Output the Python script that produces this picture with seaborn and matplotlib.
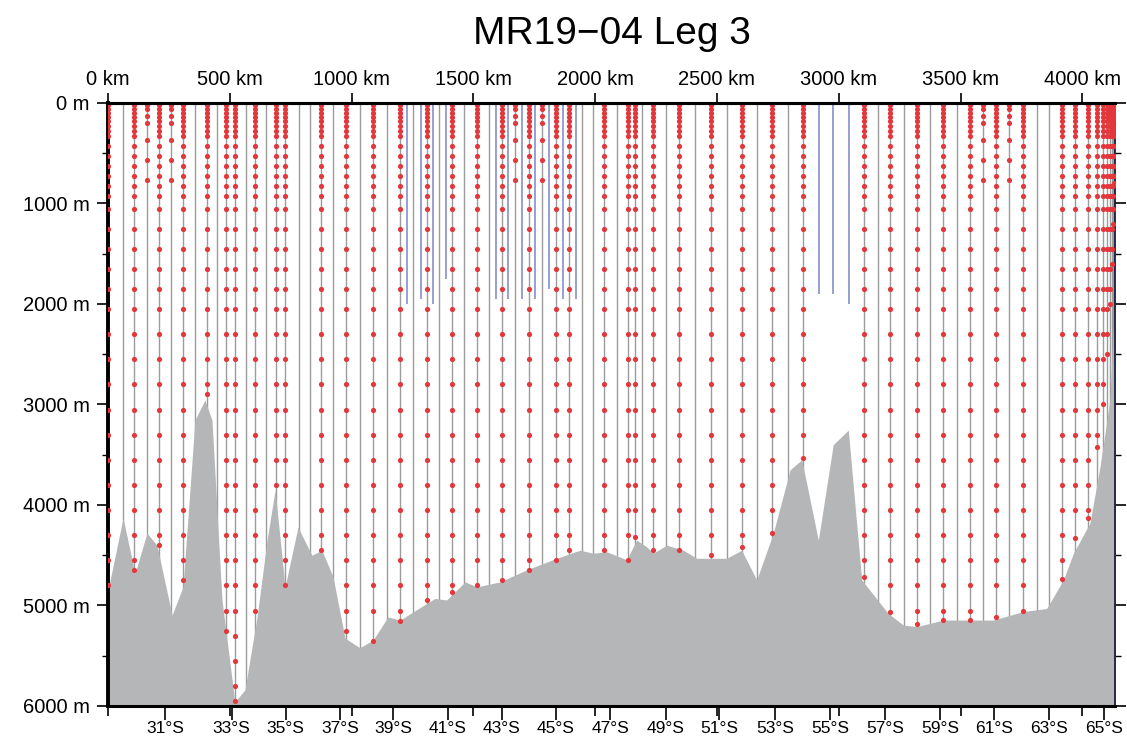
import numpy as np
import pandas as pd
import matplotlib
matplotlib.use("Agg")
import matplotlib.pyplot as plt
import seaborn as sns

# bathymetry along the section (distance km, depth m)
bathy_km = [0, 62, 111, 160, 201, 263, 308, 357, 398, 427, 468, 521, 562, 612, 653, 686, 727, 780,
            837, 878, 924, 973, 1034, 1088, 1149, 1199, 1308, 1342, 1390, 1466, 1514, 1609, 1719,
            1842, 1938, 1992, 2047, 2129, 2170, 2211, 2238, 2294, 2362, 2417, 2540, 2601, 2663,
            2731, 2800, 2848, 2916, 2977, 3039, 3094, 3203, 3265, 3320, 3429, 3634, 3757, 3853,
            3922, 3963, 4031, 4072, 4113, 4134]
bathy_m = [4850, 4130, 4680, 4280, 4400, 5095, 4815, 3155, 2955, 3155, 4945, 5960, 5840, 5115, 4350,
           3850, 4815, 4220, 4500, 4450, 4715, 5325, 5420, 5345, 5115, 5145, 4980, 4930, 4945, 4765,
           4815, 4765, 4645, 4530, 4450, 4480, 4465, 4545, 4350, 4415, 4480, 4400, 4450, 4530, 4530,
           4450, 4745, 4280, 3650, 3550, 4350, 3400, 3255, 4745, 5080, 5195, 5210, 5145, 5145, 5060,
           5030, 4745, 4480, 4180, 3620, 2955, 1860]

# bottle stations (km) and deepest sample (m)
stn_km = [0, 108, 209, 307, 405, 484, 521, 603, 688, 727, 874, 977, 1089, 1199, 1308, 1413, 1514,
          1616, 1728, 1839, 1892, 2036, 2136, 2163, 2236, 2345, 2474, 2601, 2727, 2852, 3103, 3210,
          3320, 3429, 3539, 3645, 3755, 3915, 3970, 4024, 4061, 4085, 4100, 4112, 4120, 4127, 4131]
stn_bottom = [4800, 4650, 4400, 4750, 2900, 5250, 5950, 5050, 3800, 4800, 4450, 5250, 5350, 5150,
              4950, 4870, 4800, 4750, 4650, 4550, 4450, 4450, 4550, 4320, 4450, 4450, 4500, 4420,
              4280, 3530, 4720, 5060, 5180, 5140, 5140, 5110, 5050, 4740, 4330, 4130, 3420, 3000,
              2500, 2000, 1600, 1200, 800]
# shallow bottle casts (upper 800 m only)
shallow_km = [159, 257, 1671, 1783, 3593, 3699]

deep_levels = [20, 60, 100, 140, 180, 230, 280, 330, 430, 530, 630, 730, 830, 930, 1050, 1250, 1450,
               1650, 1850, 2050, 2300, 2550, 2800, 3050, 3300, 3550, 3800, 4050, 4300, 4550, 4800,
               5050, 5300, 5550, 5800]
shallow_levels = [20, 60, 130, 200, 370, 570, 770]

# XCTD casts to the bottom
xctd_km = [62, 357, 446, 567, 649, 784, 829, 925, 1034, 1144, 1253, 1360, 1463, 1565, 1945, 1992,
           2088, 2191, 2291, 2410, 2540, 2663, 2793, 3162, 3268, 3376, 3485, 3812, 3863]

# casts to ~2000 m
argo_km = [1226, 1284, 1335, 1386, 1592, 1643, 1698, 1753, 1812, 1867, 1921, 2919, 2976, 3042]
argo_bottom = [2000, 1950, 2000, 1750, 1950, 1950, 1950, 1950, 1850, 1950, 1950, 1900, 1900, 2000]

lat_km = [234, 508, 729, 952, 1170, 1396, 1616, 1839, 2061, 2289, 2508, 2740, 2964, 3190, 3415,
          3637, 3863, 4089]
lat_labels = ['31°S', '33°S', '35°S', '37°S', '39°S', '41°S', '43°S', '45°S', '47°S', '49°S',
              '51°S', '53°S', '55°S', '57°S', '59°S', '61°S', '63°S', '65°S']
km_ticks = [0, 500, 1000, 1500, 2000, 2500, 3000, 3500, 4000]
depth_ticks = [0, 1000, 2000, 3000, 4000, 5000, 6000]

sns.set_style("ticks")
plt.rcParams['font.family'] = ['Liberation Sans', 'DejaVu Sans']
plt.rcParams['text.color'] = 'black'
plt.rcParams['xtick.color'] = 'black'
plt.rcParams['ytick.color'] = 'black'
plt.rcParams['xtick.labelcolor'] = 'black'
plt.rcParams['ytick.labelcolor'] = 'black'

# tabella dei campioni
rows = []
for k, b in zip(stn_km, stn_bottom):
    for d in [d for d in deep_levels if d < b - 60] + [b]:
        rows.append((k, d))
for k in shallow_km:
    for d in shallow_levels:
        rows.append((k, d))
df = pd.DataFrame(rows, columns=['km', 'depth'])

fig = plt.figure(figsize=(11.27, 7.43), dpi=100)
ax = fig.add_axes([0.0958, 0.0498, 0.8936, 0.8116])

ax.vlines(xctd_km + stn_km + shallow_km, 0, 6000, color='#9c9c9c', lw=1.0, zorder=1)
ax.vlines(argo_km, 0, argo_bottom, color='#8f98cc', lw=1.3, zorder=1)
ax.fill_between(bathy_km, bathy_m, 6000, color='#b5b6b8', lw=0, zorder=2)
sns.scatterplot(data=df, x='km', y='depth', color='#e3373c', s=14, linewidth=0,
                ax=ax, zorder=3, legend=False)

ax.set_xlim(0, 4134)
ax.set_ylim(6000, 0)
ax.set_xlabel('')
ax.set_ylabel('')

ax.set_yticks(depth_ticks, [f'{d} m' for d in depth_ticks])
ax.set_yticks(np.arange(500, 6000, 1000), minor=True)
ax.tick_params(axis='y', which='major', direction='out', length=8, width=1.2, pad=5,
               labelsize=14.5, left=True, right=True, labelright=False)
ax.tick_params(axis='y', which='minor', direction='out', length=4, width=1.0,
               left=True, right=True)

ax.set_xticks(lat_km, lat_labels)
ax.set_xticks(km_ticks, minor=True)
ax.tick_params(axis='x', which='major', direction='out', length=10, width=1.2, pad=1,
               labelsize=12.5, bottom=True, top=False)
ax.tick_params(axis='x', which='minor', direction='out', length=7, width=1.2,
               bottom=True, top=False)

ax2 = ax.twiny()
ax2.set_xlim(ax.get_xlim())
ax2.set_xticks(km_ticks, [f'{k} km' for k in km_ticks])
ax2.tick_params(axis='x', direction='out', length=7, width=1.2, pad=3, labelsize=14.5,
                top=True, bottom=False)
for s in ['left', 'right', 'bottom']:
    ax2.spines[s].set_visible(False)
ax2.spines['top'].set_linewidth(2.2)
ax2.spines['top'].set_color('black')

for s in ['left', 'top', 'bottom']:
    ax.spines[s].set_color('black')
ax.spines['left'].set_linewidth(2.8)
ax.spines['top'].set_linewidth(2.2)
ax.spines['bottom'].set_linewidth(2.2)
ax.spines['right'].set_linewidth(1.3)
ax.spines['right'].set_color('#1a1a40')

fig.text(611.7 / 1127, 1 - 44 / 743, 'MR19\u221204 Leg 3', ha='center', va='baseline',
         fontsize=28, color='black')

fig.savefig('out.png', dpi=100)
